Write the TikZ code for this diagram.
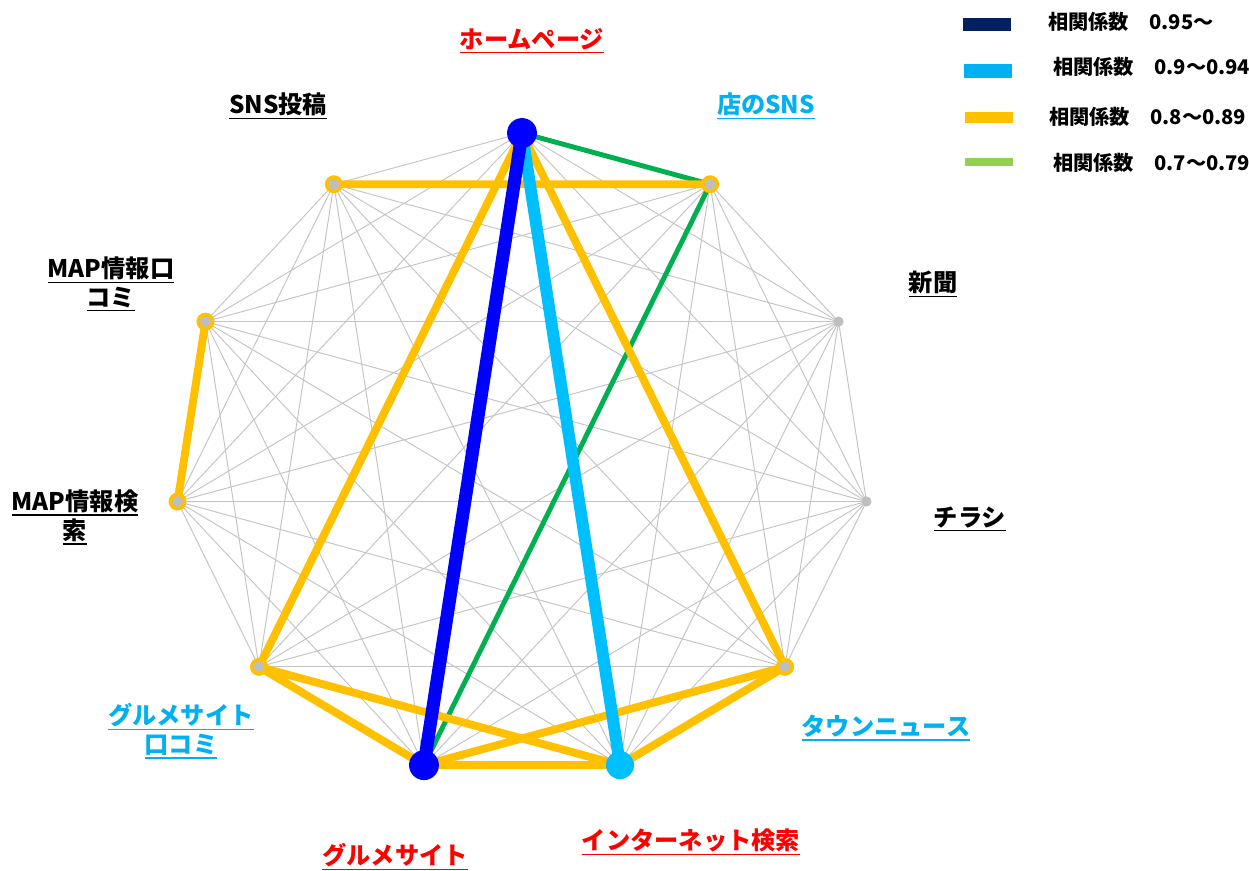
\documentclass[tikz,border=0pt]{standalone}
\usepackage{fontspec}
\setmainfont{Noto Sans CJK JP}
\definecolor{strongblue}{HTML}{0000FF}
\definecolor{skyblue}{HTML}{00BFFF}
\definecolor{amber}{HTML}{FFC000}
\definecolor{leafgreen}{HTML}{00B050}
\definecolor{linegray}{HTML}{C4C4C4}
\definecolor{dotgray}{HTML}{BEBEBE}
\definecolor{navy}{HTML}{002060}
\definecolor{keysky}{HTML}{00B0F0}
\definecolor{keygreen}{HTML}{92D050}
\definecolor{redtxt}{HTML}{FF0000}
\definecolor{bluetxt}{HTML}{00B0F0}
\newcommand\uln[1]{\vtop{\hbox{#1}\kern1pt\hrule height 0.8pt}}
\begin{document}
\begin{tikzpicture}
	[x=0.02cm, y=-0.02cm,
	tag/.style={font=\bfseries\fontsize{13.8}{16.5}\selectfont, align=center, inner sep=0pt},
	keytext/.style={font=\bfseries\fontsize{11.5}{14}\selectfont, anchor=west, inner sep=0pt},
	bar/.style={minimum width=0.96cm, inner sep=0pt},
	weak/.style={draw=linegray, line width=0.55pt},
	r95/.style={draw=strongblue, line width=7.4pt, line cap=round},
	r90/.style={draw=skyblue, line width=6.8pt, line cap=round},
	r80/.style={draw=amber, line width=4.5pt, line cap=round},
	r70/.style={draw=leafgreen, line width=2.8pt, line cap=round}]
	\useasboundingbox (0,0) rectangle (1249,870);
	% vertices: 0 hp, 1 sns, 2 paper, 3 flyer, 4 town, 5 net,
	% 6 gourmet, 7 greview, 8 mapsearch, 9 mapreview, 10 post
	\foreach \i in {0,...,10}
		\coordinate (v\i) at ({522+348*cos(90-\i*360/11)},{455.6-322.6*sin(90-\i*360/11)});
	\foreach \i in {0,...,9} {
		\pgfmathtruncatemacro\k{\i+1}
		\foreach \j in {\k,...,10} \draw[weak] (v\i) -- (v\j);
	}
	\draw[r70] (v0) -- (v1) (v1) -- (v6);
	\draw[r80] (v10) -- (v1) (v0) -- (v7) (v0) -- (v4) (v9) -- (v8)
		(v7) -- (v6) (v7) -- (v5) (v6) -- (v5) (v6) -- (v4) (v5) -- (v4);
	\draw[r90] (v0) -- (v5);
	\draw[r95] (v0) -- (v6);
	% markers
	\foreach \i in {1,4,7,8,9,10}
		\filldraw[fill=dotgray, draw=amber, line width=2pt] (v\i) circle (4.1pt);
	\foreach \i in {2,3}
		\fill[dotgray] (v\i) circle (2.9pt);
	\fill[strongblue] (v0) circle (8.5pt);
	\fill[strongblue] (v6) circle (8.5pt);
	\fill[skyblue] (v5) circle (8pt);
	% labels
	\node[tag, text=redtxt] (lhp) at (532,41) {\uln{ホームページ}};
	\node[tag, text=bluetxt] (lsns) at (766,106) {\uln{店のSNS}};
	\node[tag] (lpaper) at (933,284) {\uln{新聞}};
	\node[tag] (lflyer) at (970,519) {\uln{チラシ}};
	\node[tag, text=bluetxt] (ltown) at (886,728) {\uln{タウンニュース}};
	\node[tag, text=redtxt] (lnet) at (691,842) {\uln{インターネット検索}};
	\node[tag, text=redtxt] (lgourmet) at (395,857) {\uln{グルメサイト}};
	\node[tag, text=bluetxt] (lgreview) at (181,731) {\uln{グルメサイト}\\\uln{口コミ}};
	\node[tag] (lmapsearch) at (75,517) {\uln{MAP情報検}\\\uln{索}};
	\node[tag] (lmapreview) at (111,284) {\uln{MAP情報口}\\\uln{コミ}};
	\node[tag] (lpost) at (278,106) {\uln{SNS投稿}};
	% legend
	\node[bar, fill=navy, minimum height=0.26cm] (k1) at (987,24) {};
	\node[bar, fill=keysky, minimum height=0.28cm] (k2) at (988,71) {};
	\node[bar, fill=amber, minimum height=0.22cm] (k3) at (989,117) {};
	\node[bar, fill=keygreen, minimum height=0.16cm] (k4) at (989,162) {};
	\node[keytext] (t1) at (1048,22) {相関係数\hspace{1em}0.95〜};
	\node[keytext] (t2) at (1053,67) {相関係数\hspace{1em}0.9〜0.94};
	\node[keytext] (t3) at (1049,117) {相関係数\hspace{1em}0.8〜0.89};
	\node[keytext] (t4) at (1053,163) {相関係数\hspace{1em}0.7〜0.79};
\end{tikzpicture}
\end{document}
